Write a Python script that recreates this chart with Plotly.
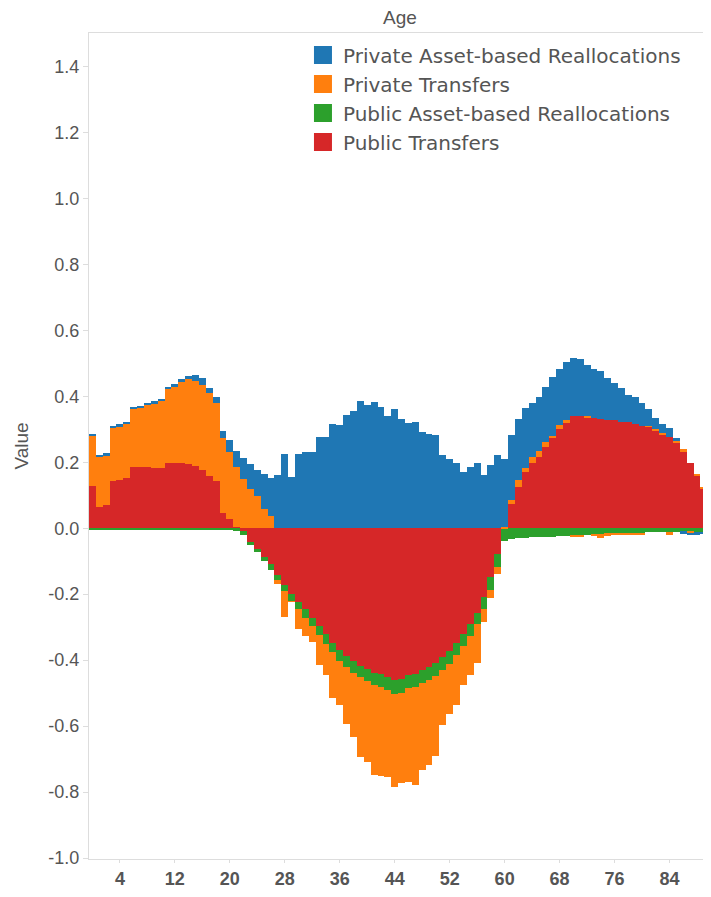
import plotly.graph_objects as go

ages = list(range(91))

public_transfers = [
    0.129, 0.064, 0.069, 0.142, 0.146, 0.151, 0.186, 0.186, 0.186, 0.182,
    0.182, 0.199, 0.199, 0.199, 0.196, 0.189, 0.176, 0.159, 0.142, 0.046,
    0.027, 0.004, -0.008, -0.043, -0.062, -0.088, -0.109, -0.141, -0.171, -0.198,
    -0.224, -0.246, -0.273, -0.296, -0.321, -0.348, -0.369, -0.386, -0.404, -0.418,
    -0.428, -0.438, -0.441, -0.451, -0.461, -0.458, -0.446, -0.441, -0.431, -0.421,
    -0.408, -0.391, -0.371, -0.348, -0.321, -0.291, -0.256, -0.208, -0.149, -0.079,
    -0.002, 0.072, 0.126, 0.169, 0.199, 0.216, 0.246, 0.274, 0.301, 0.321,
    0.341, 0.341, 0.336, 0.334, 0.331, 0.327, 0.327, 0.321, 0.321, 0.317,
    0.311, 0.307, 0.297, 0.284, 0.277, 0.261, 0.234, 0.199, 0.161, 0.119, 0.097,
]

public_asset = [
    -0.003, -0.003, -0.003, -0.003, -0.003, -0.003, -0.003, -0.003, -0.003, -0.003,
    -0.003, -0.003, -0.003, -0.003, -0.003, -0.005, -0.005, -0.005, -0.005, -0.005,
    -0.006, -0.007, -0.012, -0.008, -0.011, -0.011, -0.017, -0.015, -0.018, -0.023,
    -0.022, -0.027, -0.023, -0.028, -0.030, -0.028, -0.035, -0.035, -0.034, -0.033,
    -0.036, -0.036, -0.040, -0.040, -0.042, -0.042, -0.040, -0.040, -0.038, -0.040,
    -0.040, -0.040, -0.040, -0.035, -0.035, -0.035, -0.035, -0.038, -0.039, -0.039,
    -0.038, -0.034, -0.031, -0.029, -0.028, -0.026, -0.026, -0.026, -0.025, -0.025,
    -0.023, -0.023, -0.021, -0.020, -0.019, -0.017, -0.016, -0.015, -0.015, -0.014,
    -0.014, -0.013, -0.013, -0.012, -0.012, -0.011, -0.011, -0.010, -0.010, -0.010, -0.010,
]

private_transfers = [
    0.150, 0.153, 0.152, 0.161, 0.163, 0.166, 0.176, 0.180, 0.189, 0.197,
    0.205, 0.224, 0.232, 0.245, 0.258, 0.258, 0.258, 0.252, 0.239, 0.228,
    0.204, 0.183, 0.149, 0.119, 0.097, 0.059, 0.036, -0.013, -0.079, -0.002,
    -0.060, -0.053, -0.048, -0.092, -0.093, -0.138, -0.132, -0.173, -0.196, -0.243,
    -0.245, -0.274, -0.270, -0.263, -0.283, -0.274, -0.285, -0.297, -0.265, -0.257,
    -0.243, -0.165, -0.153, -0.153, -0.118, -0.120, -0.117, -0.038, -0.025, -0.020,
    0.004, 0.014, 0.020, 0.013, 0.017, 0.018, 0.015, 0.005, 0.013, 0.006,
    -0.005, -0.005, 0.005, -0.003, -0.012, -0.006, -0.005, -0.004, -0.004, -0.007,
    -0.007, 0.003, 0.005, 0.004, -0.008, 0.003, 0.005, -0.005, 0.004, 0.003, 0.002,
]

private_asset = [
    0.008, 0.005, 0.006, 0.008, 0.006, 0.006, 0.006, 0.006, 0.006, 0.006,
    0.006, 0.006, 0.006, 0.007, 0.006, 0.017, 0.021, 0.013, 0.017, 0.022,
    0.035, 0.047, 0.065, 0.075, 0.079, 0.105, 0.115, 0.161, 0.226, 0.156,
    0.226, 0.230, 0.230, 0.278, 0.278, 0.317, 0.313, 0.344, 0.354, 0.387,
    0.375, 0.384, 0.367, 0.341, 0.362, 0.332, 0.319, 0.322, 0.292, 0.287,
    0.284, 0.221, 0.209, 0.199, 0.169, 0.186, 0.199, 0.161, 0.191, 0.221,
    0.205, 0.198, 0.186, 0.181, 0.163, 0.163, 0.168, 0.178, 0.168, 0.177,
    0.176, 0.171, 0.153, 0.150, 0.146, 0.127, 0.114, 0.103, 0.083, 0.080,
    0.068, 0.051, 0.032, 0.029, 0.027, 0.010, -0.006, -0.005, -0.010, -0.008, -0.008,
]

x_ticks = [4, 12, 20, 28, 36, 44, 52, 60, 68, 76, 84]
y_ticks = [-1.0, -0.8, -0.6, -0.4, -0.2, 0.0, 0.2, 0.4, 0.6, 0.8, 1.0, 1.2, 1.4]
y_labels = ["-1.0", "-0.8", "-0.6", "-0.4", "-0.2", "0.0", "0.2", "0.4", "0.6", "0.8", "1.0", "1.2", "1.4"]

names = ["Public Transfers", "Public Asset-based Reallocations",
         "Private Transfers", "Private Asset-based Reallocations"]
colors = ["#d62728", "#2ca02c", "#ff7f0e", "#1f77b4"]
values = [public_transfers, public_asset, private_transfers, private_asset]

fig = go.Figure()
# stacking order: red nearest zero, then green, orange, blue
for name, vals, col in zip(names, values, colors):
    fig.add_trace(go.Bar(x=ages, y=vals, name=name, showlegend=False,
                         marker=dict(color=col, line=dict(width=0))))

# legend entries with bigger square swatches, listed top to bottom
for name, col in zip(names[::-1], colors[::-1]):
    fig.add_trace(go.Scatter(x=[None], y=[None], mode="markers", name=name,
                             marker=dict(symbol="square", size=16, color=col,
                                         line=dict(width=2, color=col))))

font_family = "Liberation Sans, Arial, sans-serif"

# page has an 8px body margin, so the figure is a bit smaller than the window
fig.update_layout(
    width=703, height=881,
    barmode="relative", bargap=0,
    plot_bgcolor="white", paper_bgcolor="white",
    margin=dict(l=81, r=0, t=25, b=22),
    font=dict(family=font_family, color="#555555"),
    legend=dict(
        traceorder="normal", x=0.344, y=0.997, xanchor="left", yanchor="top",
        font=dict(size=20, color="#555555", family="DejaVu Sans, sans-serif"),
        bgcolor="rgba(0,0,0,0)", itemwidth=30,
    ),
    annotations=[
        dict(text="Age", x=0.5, y=1, xref="paper", yref="paper", xanchor="center", yanchor="bottom",
             yshift=3, showarrow=False, font=dict(size=19, color="#555555")),
    ],
)

fig.update_xaxes(
    range=[-0.5, 90.04], tickvals=x_ticks, ticktext=["<b>%d</b>" % t for t in x_ticks],
    tickfont=dict(size=18, color="#555555"), showgrid=False, zeroline=False,
    showline=True, linecolor="#dddddd", linewidth=1, mirror=True,
    ticks="outside", ticklen=3, tickcolor="#dddddd",
)
fig.update_yaxes(
    range=[-1.003, 1.5015], tickvals=y_ticks, ticktext=y_labels,
    tickfont=dict(size=18, color="#555555"), showgrid=False, zeroline=False,
    showline=True, linecolor="#dddddd", linewidth=1,
    ticks="outside", ticklen=5, tickcolor="#dddddd",
    title=dict(text="Value", font=dict(size=19, color="#555555"), standoff=14),
)

fig.write_html("out.html")
